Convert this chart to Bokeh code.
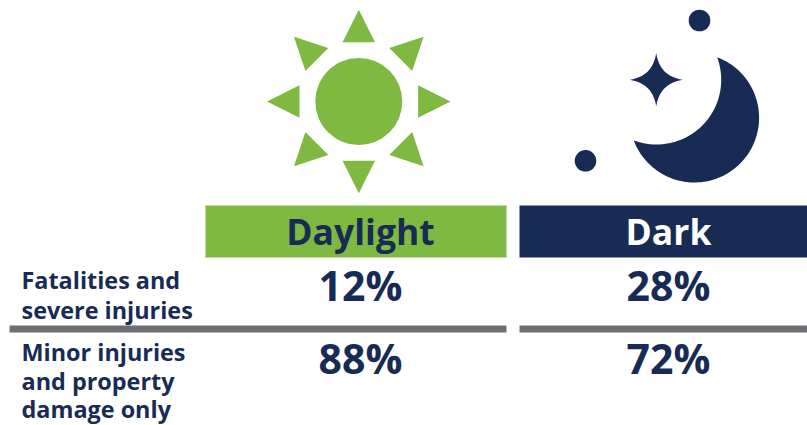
import math
from bokeh.plotting import figure
from bokeh.models import Range1d, ColumnDataSource
from bokeh.core.properties import value
from bokeh.embed import file_html
from bokeh.resources import INLINE

conditions = ["Daylight", "Dark"]
fatal_severe = ["12%", "28%"]
minor_property = ["88%", "72%"]
row_label_1 = ["Fatalities and", "severe injuries"]
row_label_2 = ["Minor injuries", "and property", "damage only"]

GREEN = "#7FB942"
NAVY = "#172B54"
GRAY = "#6D6E71"
FONT = "Open Sans"

p = figure(width=807, height=425, output_backend="svg", toolbar_location=None,
           x_range=Range1d(0, 807), y_range=Range1d(425, 0),
           min_border=0, outline_line_color=None)
p.axis.visible = False
p.grid.visible = False

# column geometry
col_left = [205, 519]
col_right = [506, 807]
col_center = [360, 668]
p.quad(left=col_left, right=col_right, top=[205, 205], bottom=[257, 257],
       fill_color=[GREEN, NAVY], line_color=None)
p.quad(left=[9, 519], right=[506, 807], top=[325, 325], bottom=[332, 332],
       fill_color=GRAY, line_color=None)

# sun
sx, sy = 358.3, 101.0
p.circle(x=[sx], y=[sy], radius=43.5, fill_color=GREEN, line_color=None)
xs, ys = [], []
for k in range(8):
    a = k * math.pi / 4
    c, s = math.cos(a), math.sin(a)
    tri = [(0, -91.7), (-16.2, -59.3), (16.2, -59.3)]
    xs.append([sx + u * c - v * s for u, v in tri])
    ys.append([sy + u * s + v * c for u, v in tri])
p.patches(xs, ys, fill_color=GREEN, line_color=None)

# moon: outer disc minus inner disc
ox, oy, mr = 693.9, 117.3, 64.7
ix, iy = 656.0, 79.3
d = math.hypot(ox - ix, oy - iy)
theta = math.atan2(oy - iy, ox - ix)
alpha = math.acos(d / 2 / mr)
n = 100
mxs, mys = [], []
for i in range(n + 1):
    a = theta - (math.pi - alpha) + 2 * (math.pi - alpha) * i / n
    mxs.append(ox + mr * math.cos(a))
    mys.append(oy + mr * math.sin(a))
for i in range(n + 1):
    a = theta + alpha - 2 * alpha * i / n
    mxs.append(ix + mr * math.cos(a))
    mys.append(iy + mr * math.sin(a))
p.patch(mxs, mys, fill_color=NAVY, line_color=None)

# star
cx, cy, R, C = 655.7, 79.3, 26.7, 3.5
corners = [(0, -R), (R, 0), (0, R), (-R, 0)]
ctrl = [(C, -C), (C, C), (-C, C), (-C, -C)]
stx, sty = [], []
for i in range(4):
    A, B, K = corners[i], corners[(i + 1) % 4], ctrl[i]
    for j in range(20):
        t = j / 20
        stx.append(cx + (1 - t) ** 2 * A[0] + 2 * t * (1 - t) * K[0] + t * t * B[0])
        sty.append(cy + (1 - t) ** 2 * A[1] + 2 * t * (1 - t) * K[1] + t * t * B[1])
p.patch(stx, sty, fill_color=NAVY, line_color=None)

# dots
p.circle(x=[699, 585], y=[20, 160.3], radius=10.8, fill_color=NAVY, line_color=None)

def txt(xs_, ys_, labels, size, color, align):
    src = ColumnDataSource(dict(x=xs_, y=[y - 0.42 * size for y in ys_], t=labels))
    p.text(x="x", y="y", text="t", source=src, text_font=value(FONT), text_font_style="bold",
           text_font_size=f"{size}px", text_color=color, text_align=align,
           text_baseline="alphabetic")

txt([col_center[0]], [245], [conditions[0]], 35.5, NAVY, "center")
txt([col_center[1]], [245], [conditions[1]], 35.5, "white", "center")
txt(col_center, [302, 302], fatal_severe, 41, NAVY, "center")
txt(col_center, [375, 375], minor_property, 41, NAVY, "center")
txt([21, 21], [289, 319], row_label_1, 23.4, NAVY, "left")
txt([21, 21, 21], [361, 390, 418], row_label_2, 23.4, NAVY, "left")

open("out.html", "w").write(file_html(p, INLINE))
